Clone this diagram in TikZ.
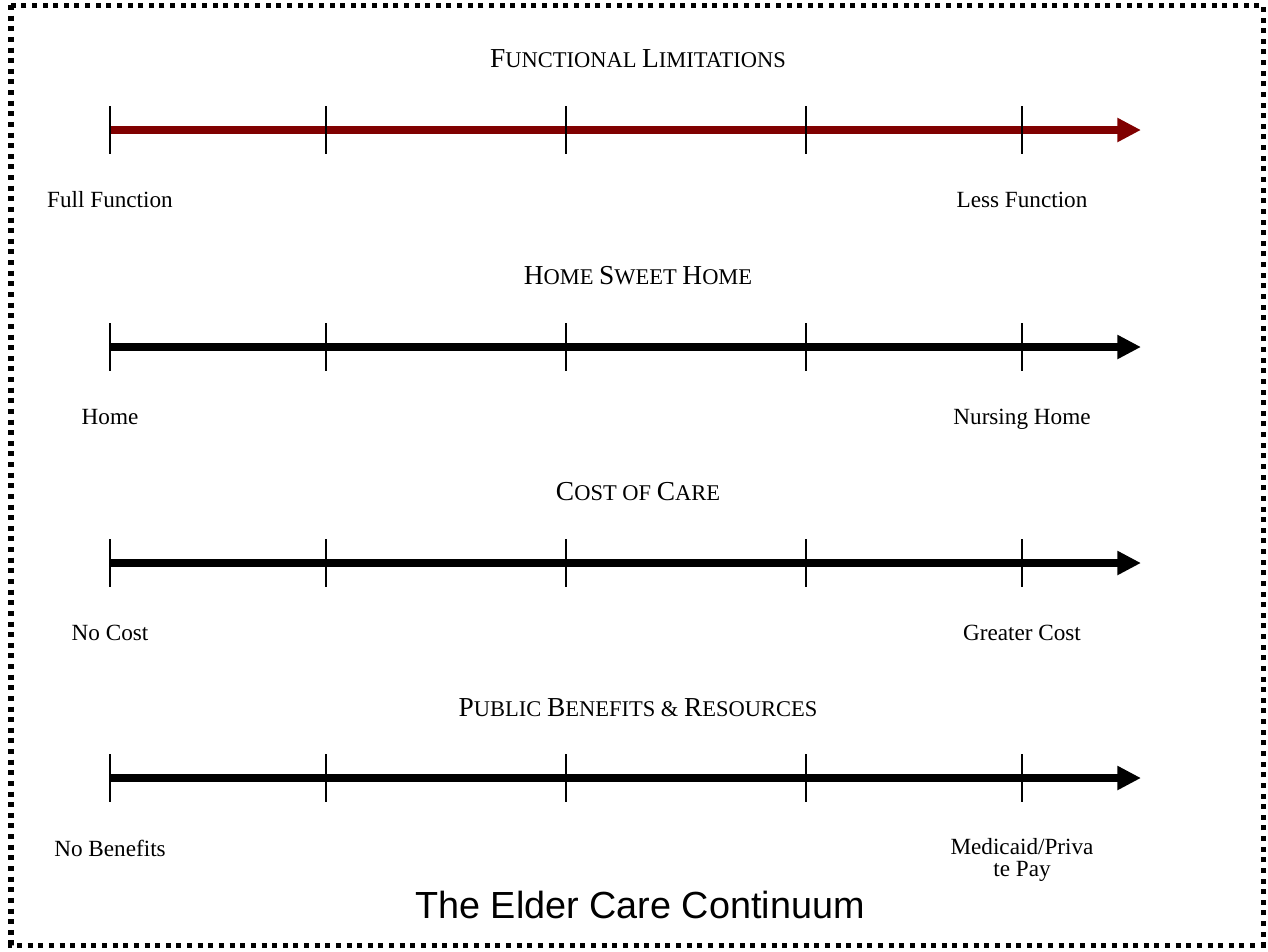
\documentclass[tikz,border=0pt]{standalone}
\usepackage{fontspec}
\setmainfont{Liberation Serif}
\setsansfont{Liberation Sans}
\usepackage{xcolor}
\usepackage{tikz}
\usetikzlibrary{arrows.meta}

\definecolor{limitred}{HTML}{800000}
\newcommand{\capinit}[1]{{\fontsize{15.6}{17}\selectfont #1}}

\tikzset{
	axisline/.style={line width=4.7pt,-{Triangle[length=13.5pt,width=13pt]}},
	tickmark/.style={line width=1.1pt},
	rowtitle/.style={anchor=base,inner sep=0pt,font=\fontsize{12.8}{14}\selectfont},
	endlabel/.style={anchor=base,inner sep=0pt,align=center,font=\fontsize{13.2}{12}\selectfont}
}

\begin{document}
\begin{tikzpicture}[x=0.02cm,y=-0.02cm]
		\useasboundingbox (0,0) rectangle (1268,951);
		\draw[line width=2.85pt,dash pattern=on 2.85pt off 3.2pt] (11,5) rectangle (1263,945);
		% functional limitations
		\node[rowtitle] (flTitle) at (638,67) {\capinit{F}UNCTIONAL \capinit{L}IMITATIONS};
		\coordinate (flStart) at (110,130);
		\coordinate (flEnd) at (1141,130);
		\draw[axisline,limitred] (flStart) -- (flEnd);
		\node[endlabel] (flLeft) at (110,207) {Full Function};
		\node[endlabel] (flRight) at (1022,207) {Less Function};
		% home sweet home
		\node[rowtitle] (hsTitle) at (638,284) {\capinit{H}OME \capinit{S}WEET \capinit{H}OME};
		\coordinate (hsStart) at (110,347);
		\coordinate (hsEnd) at (1141,347);
		\draw[axisline] (hsStart) -- (hsEnd);
		\node[endlabel] (hsLeft) at (110,424) {Home};
		\node[endlabel] (hsRight) at (1022,424) {Nursing Home};
		% cost of care
		\node[rowtitle] (ccTitle) at (638,500) {\capinit{C}OST OF \capinit{C}ARE};
		\coordinate (ccStart) at (110,563);
		\coordinate (ccEnd) at (1141,563);
		\draw[axisline] (ccStart) -- (ccEnd);
		\node[endlabel] (ccLeft) at (110,640) {No Cost};
		\node[endlabel] (ccRight) at (1022,640) {Greater Cost};
		% public benefits
		\node[rowtitle] (pbTitle) at (638,716) {\capinit{P}UBLIC \capinit{B}ENEFITS \& \capinit{R}ESOURCES};
		\coordinate (pbStart) at (110,778);
		\coordinate (pbEnd) at (1141,778);
		\draw[axisline] (pbStart) -- (pbEnd);
		\node[endlabel] (pbLeft) at (110,856) {No Benefits};
		\node[endlabel] (pbRight) at (1022,876) {Medicaid/Priva\\te Pay};
		% ticks
		\foreach \y in {130,347,563,778}
			\foreach \x in {110,326,566,806,1022}
				\draw[tickmark] (\x,\y-24) -- (\x,\y+24);
		\node[anchor=base,inner sep=0pt,font=\sffamily\fontsize{21.5}{24}\selectfont] (caption) at (640,918) {The Elder Care Continuum};
	\end{tikzpicture}
\end{document}
